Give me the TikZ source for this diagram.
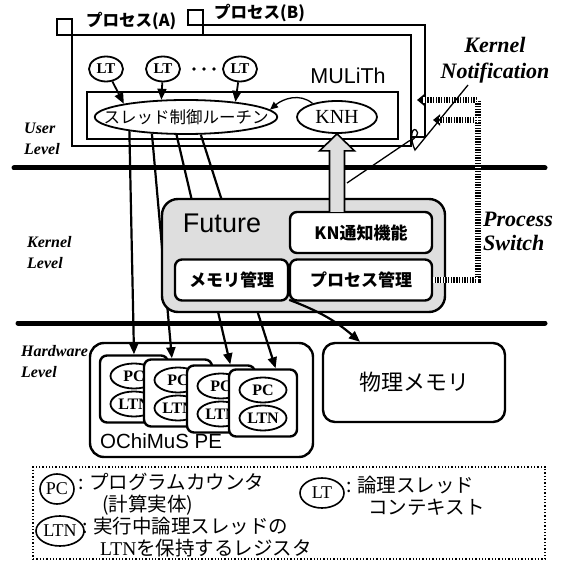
\documentclass[tikz,border=0pt]{standalone}
\usepackage{fontspec}
\setmainfont{Liberation Serif}
\setsansfont{Liberation Sans}
\newfontfamily\jpfont{Noto Sans CJK JP}
\usetikzlibrary{arrows.meta,positioning,shapes.geometric,calc}

\tikzset{
  frame/.style={draw,line width=2pt},
  rbox/.style={draw,line width=2.4pt,rounded corners=7pt,fill=white,inner sep=0pt},
  oval/.style={ellipse,draw,line width=1.8pt,fill=white,inner sep=0pt},
  lvl/.style={anchor=west,align=left,inner sep=0pt,font=\bfseries\itshape\fontsize{16}{21}\selectfont},
  flow/.style={line width=2.2pt,-{Triangle[length=11pt,width=9pt]}},
  hatchband/.style={line width=6pt,draw=black,line join=miter},
  hatchgap/.style={line width=6pt,draw=white,dash pattern=on 1.3pt off 1.4pt},
  legtext/.style={anchor=west,align=left,inner sep=0pt,font=\jpfont\fontsize{19.5}{22}\selectfont},
}

\begin{document}
\begin{tikzpicture}[x=1pt,y=-1pt]
	\useasboundingbox (0,0) rectangle (562,561);

	% level borders
	\draw[line width=5pt,line cap=round] (14,168) -- (545,168);
	\draw[line width=5pt,line cap=round] (18,323) -- (545,323);

	\node[lvl] (lvuser) at (24,139) {User\\Level};
	\node[lvl] (lvkern) at (27,253) {Kernel\\Level};
	\node[lvl] (lvhard) at (21,362) {Hardware\\Level};

	% processes
	\draw[frame] (188,10) rectangle (203,25);
	\draw[frame] (203,25) rectangle (425,137);
	\draw[frame,fill=white] (57,19) rectangle (72,35);
	\draw[frame,fill=white] (72,35) rectangle (411,146);
	\node[anchor=west,inner sep=0pt,font=\jpfont\bfseries\fontsize{16.5}{18}\selectfont] (proca) at (86,21) {プロセス(A)};
	\node[anchor=west,inner sep=0pt,font=\jpfont\bfseries\fontsize{16.5}{18}\selectfont] (procb) at (214,13) {プロセス(B)};

	\node[font=\sffamily\fontsize{21.5}{24}\selectfont] (mulith) at (348,76) {MULiTh};
	\draw[frame] (87,92) rectangle (398,139);

	\begin{scope}[every node/.style={oval,minimum width=34,minimum height=25,font=\bfseries\fontsize{15}{18}\selectfont}]
		\node (lta) at (106,69) {LT};
		\node (ltb) at (163,69) {LT};
		\node (ltc) at (240,69) {LT};
	\end{scope}
	\foreach \x in {194,204,214}
		\fill (\x,69) circle (1.8);

	\node[oval,inner xsep=-18pt,inner ysep=2pt,minimum width=178,minimum height=34,font=\jpfont\fontsize{16.5}{18}\selectfont] (ctl) at (186,117) {スレッド制御ルーチン};
	\node[oval,minimum width=80,minimum height=32,font=\fontsize{20}{22}\selectfont] (knh) at (337,117) {KNH};

	\begin{scope}[flow,line width=1.8pt]
		\draw (lta) -- (ctl.168);
		\draw (ltb) -- (ctl.145);
		\draw (ltc) -- (ctl.17);
	\end{scope}
	\draw[line width=1.3pt,-{Triangle[length=8pt,width=7pt]}] (knh.151) to[out=140,in=40] (ctl.5);

	% hardware
	\node[rbox,minimum width=223,minimum height=114,rounded corners=14pt] (pe) at (201.5,400) {};
	\node[anchor=west,inner sep=0pt,font=\sffamily\fontsize{20.5}{22}\selectfont] (pelbl) at (100,441) {OChiMuS PE};
	\foreach \n/\cx/\cy in {1/134/389,2/178/393,3/221/399,4/263/403}{
		\node[rbox,minimum width=68,minimum height=67] (card\n) at (\cx,\cy) {};
		\node[oval,minimum width=47,minimum height=25,font=\bfseries\fontsize{16}{18}\selectfont] (pc\n) at (\cx,\cy-13) {PC};
		\node[oval,minimum width=47,minimum height=25,font=\bfseries\fontsize{16}{18}\selectfont] (ltn\n) at (\cx,\cy+15) {LTN};
	}
	\node[rbox,minimum width=182,minimum height=79,rounded corners=12pt,font=\jpfont\fontsize{22}{24}\selectfont] (phys) at (414,382.5) {物理メモリ};

	\draw[flow] (ctl.194) -- (card1.north);
	\draw[flow] (ctl.206) -- (card2.100);
	\draw[flow] (ctl.242) -- (card3.75);
	\draw[flow] (ctl.310) -- (card4.70);

	% kernel
	\node[rbox,fill=black!13,minimum width=283,minimum height=113,rounded corners=16pt] (future) at (303.5,255.5) {};
	\node[font=\sffamily\fontsize{27}{30}\selectfont] (futlbl) at (222,223) {Future};
	\begin{scope}[every node/.style={rbox,minimum height=41,font=\jpfont\bfseries\fontsize{17}{20}\selectfont}]
		\node[minimum width=142] (kn) at (361,232.5) {KN通知機能};
		\node[minimum width=142] (pm) at (361,280) {プロセス管理};
		\node[minimum width=113] (mm) at (231.5,280) {メモリ管理};
	\end{scope}
	\draw[flow] (mm.-19) to[bend left=10] (phys.143);

	\draw[line width=1.6pt,fill=black!13,line join=miter]
		($(knh.south)+(-7.5,78)$) -- ++(0,-61) -- ++(-10,0) -- (knh.south)
		-- ++(17.5,17) -- ++(-10,0) -- ++(0,61);

	% notification and switch
	\node[align=center,font=\bfseries\itshape\fontsize{22}{26}\selectfont] (knote) at (495,60) {Kernel\\Notification};
	\node[anchor=west,align=left,inner sep=0pt,font=\bfseries\itshape\fontsize{22}{24}\selectfont] (psw) at (483,231) {Process\\Switch};

	\coordinate (swa) at (417,100);
	\coordinate (swb) at (433,120);
	\draw[hatchband,-{Triangle[length=7pt,width=11pt]}] (pm.east) -- (478,280) -- (478,100) -- (swa);
	\draw[hatchband,-{Triangle[length=7pt,width=11pt]}] (478,120) -- (swb);
	\draw[hatchgap,shorten >=6pt] (pm.east) -- (478,280) -- (478,100) -- (swa);
	\draw[hatchgap,shorten >=6pt] (478,120) -- (swb);

	\coordinate (kntip) at (347,183);
	\draw[line width=1.3pt] (468,85) -- (415,150) .. controls (410,140) and (411,127) .. (416,130)
		.. controls (420,133) and (416,139) .. (409,141) -- (kntip);

	% legend
	\node[draw,dotted,line width=1.3pt,minimum width=512,minimum height=92,inner sep=0pt] (legend) at (289,513) {};
	\begin{scope}[every node/.style={oval,line width=1.6pt,font=\fontsize{18}{20}\selectfont}]
		\node[minimum width=34,minimum height=30] (kpc) at (57,489) {PC};
		\node[minimum width=48,minimum height=30] (kltn) at (60,531) {LTN};
		\node[minimum width=44,minimum height=30] (klt) at (322,493) {LT};
	\end{scope}
	\node[legtext] (tpc) at (78,494) {: プログラムカウンタ\\\hspace*{24pt}(計算実体)};
	\node[legtext] (tltn) at (82,537) {: 実行中論理スレッドの\\\hspace*{18pt}{\rmfamily LTN}を保持するレジスタ};
	\node[legtext] (tlt) at (346,496) {: 論理スレッド\\\hspace*{22pt}コンテキスト};
\end{tikzpicture}
\end{document}
